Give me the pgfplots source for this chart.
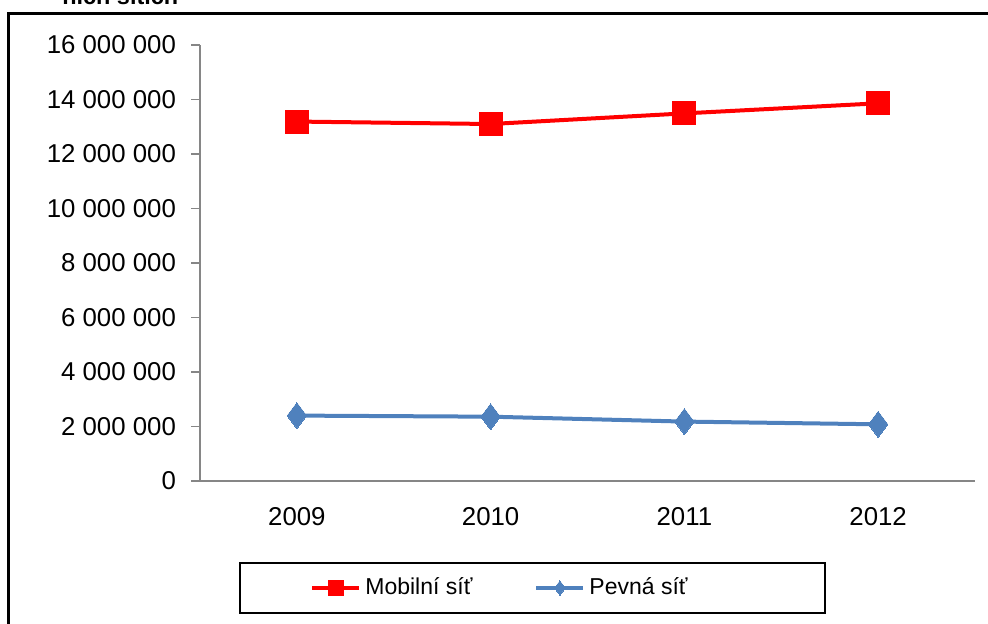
\documentclass[border=0pt]{standalone}
\usepackage{fontspec}
\setmainfont{Liberation Sans}
\usepackage{pgfplots}
\pgfplotsset{compat=1.18}
\definecolor{mobred}{HTML}{FF0000}
\definecolor{fixblue}{HTML}{4F81BD}
\definecolor{axgray}{HTML}{868686}

\begin{document}
\begin{tikzpicture}
\clip (0,0) rectangle (494pt,312pt);
% outer chart frame and cut-off title
\draw[line width=1.5pt] (4.2pt,-5pt) -- (4.2pt,305.25pt) -- (500pt,305.25pt);
\node[anchor=base west,inner sep=0pt,font=\bfseries\fontsize{11.7}{14}\selectfont] at (31pt,309.5pt) {ních sítích};
\begin{axis}[at={(100pt,71.5pt)},anchor=south west,scale only axis,
  width=387.5pt,height=218pt,
  axis lines*=left,axis line style={-,draw=axgray,line width=0.6pt},
  xmin=-0.5,xmax=3.5,ymin=0,ymax=16000000,
  xtick={0,1,2,3},xticklabels={2009,2010,2011,2012},
  x tick style={draw=none},
  extra x ticks={-0.5,0.5,1.5,2.5,3.5},extra x tick labels={},
  extra x tick style={tick align=outside,major tick length=5pt,tick style={draw=axgray,line width=0.6pt}},
  ytick={0,2000000,...,16000000},
  y tick style={draw=axgray,line width=0.6pt},tick align=outside,major tick length=4.5pt,
  scaled y ticks=false,
  yticklabel style={xshift=-4pt,/pgf/number format/.cd,fixed,precision=0,1000 sep={\ },assume math mode=true},
  xticklabel style={yshift=-5pt,/pgf/number format/assume math mode=true},
  ticklabel style={font=\fontsize{12.9}{15}\selectfont},
  tick label style={black},
  legend columns=2,
  legend style={draw=none,fill=none,at={(0.1419,-0.2454)},anchor=west,inner sep=0pt,
    font=\fontsize{11.5}{13}\selectfont,
    /tikz/every even column/.append style={column sep=29pt}},
  legend image code/.code={
    \draw[mark repeat=2,mark phase=2,#1] plot coordinates {(0pt,0pt) (11.75pt,0pt) (23.5pt,0pt)};}
]
\addplot[mobred,line width=2pt,mark=square*,mark size=5pt,mark options={solid,fill=mobred,draw=mobred},
  legend image post style={mark size=3pt}]
  coordinates {(0,13190000) (1,13100000) (2,13490000) (3,13860000)};
\addlegendentry{Mobilní síť}
\addplot[fixblue,line width=2pt,mark=diamond*,mark size=6.5pt,mark options={solid,fill=fixblue,draw=fixblue,line width=0pt},
  legend image post style={mark size=3.6pt}]
  coordinates {(0,2400000) (1,2360000) (2,2180000) (3,2080000)};
\addlegendentry{Pevná síť}
\end{axis}
\draw[line width=0.75pt] (120pt,5.5pt) rectangle (412.5pt,30.5pt);
\end{tikzpicture}
\end{document}
